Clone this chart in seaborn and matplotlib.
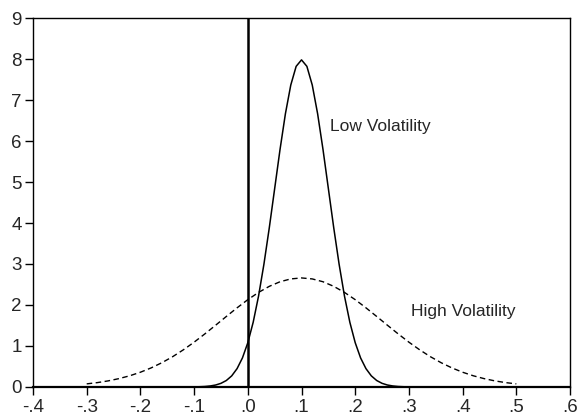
import pandas as pd
import seaborn as sns
import matplotlib.pyplot as plt
from matplotlib.ticker import FuncFormatter

# Density: low volatility curve (solid)
low_x = [-0.30, -0.10, -0.09, -0.08, -0.07, -0.06, -0.05, -0.04, -0.03, -0.02, -0.01,
         0.00, 0.01, 0.02, 0.03, 0.04, 0.05, 0.06, 0.07, 0.08, 0.09,
         0.10, 0.11, 0.12, 0.13, 0.14, 0.15, 0.16, 0.17, 0.18, 0.19,
         0.20, 0.21, 0.22, 0.23, 0.24, 0.25, 0.26, 0.27, 0.28, 0.29, 0.30, 0.50]
low_y = [0.0, 0.003, 0.006, 0.012, 0.025, 0.048, 0.089, 0.158, 0.271, 0.448, 0.709,
         1.080, 1.579, 2.218, 2.995, 3.884, 4.839, 5.794, 6.664, 7.365, 7.821,
         7.979, 7.821, 7.365, 6.664, 5.794, 4.839, 3.884, 2.995, 2.218, 1.579,
         1.080, 0.709, 0.448, 0.271, 0.158, 0.089, 0.048, 0.025, 0.012, 0.006, 0.003, 0.0]

# High volatility curve (dashed)
high_x = [-0.30, -0.28, -0.26, -0.24, -0.22, -0.20, -0.18, -0.16, -0.14, -0.12,
          -0.10, -0.08, -0.06, -0.04, -0.02, 0.00, 0.02, 0.04, 0.06, 0.08,
          0.10, 0.12, 0.14, 0.16, 0.18, 0.20, 0.22, 0.24, 0.26, 0.28,
          0.30, 0.32, 0.34, 0.36, 0.38, 0.40, 0.42, 0.44, 0.46, 0.48, 0.50]
high_y = [0.076, 0.107, 0.149, 0.204, 0.273, 0.360, 0.466, 0.592, 0.739, 0.907,
          1.093, 1.295, 1.506, 1.720, 1.931, 2.130, 2.307, 2.455, 2.567, 2.636,
          2.660, 2.636, 2.567, 2.455, 2.307, 2.130, 1.931, 1.720, 1.506, 1.295,
          1.093, 0.907, 0.739, 0.592, 0.466, 0.360, 0.273, 0.204, 0.149, 0.107, 0.076]

x_ticks = [-0.4, -0.3, -0.2, -0.1, 0.0, 0.1, 0.2, 0.3, 0.4, 0.5, 0.6]
y_ticks = [0, 1, 2, 3, 4, 5, 6, 7, 8, 9]

sns.set_style('ticks')
plt.rcParams['font.family'] = ['Liberation Sans', 'DejaVu Sans']

fig = plt.figure(figsize=(5.79, 4.19), dpi=100)
ax = fig.add_axes([0.057, 0.0764, 0.9275, 0.8806])

sns.lineplot(x=low_x, y=low_y, ax=ax, color='black', linewidth=1.1)
sns.lineplot(x=high_x, y=high_y, ax=ax, color='black', linewidth=1.0, linestyle=(0, (4, 2.5)))
ax.axvline(0, color='black', linewidth=1.8)

ax.text(0.153, 6.35, 'Low Volatility', fontsize=12.5, va='center')
ax.text(0.303, 1.85, 'High Volatility', fontsize=12.5, va='center')

ax.set_xlim(-0.4, 0.6)
ax.set_ylim(0, 9)
ax.set_xticks(x_ticks)
ax.set_yticks(y_ticks)
ax.xaxis.set_major_formatter(FuncFormatter(lambda v, p: ('%.1f' % v).replace('0.', '.')))
ax.tick_params(axis='both', direction='out', length=6, width=1, labelsize=13.5, color='black')
ax.tick_params(axis='x', pad=3)
ax.tick_params(axis='y', pad=2)
for s in ax.spines.values():
    s.set_linewidth(1.0)
    s.set_color('black')
ax.spines['bottom'].set_linewidth(1.6)

plt.savefig('out.png', dpi=100)
